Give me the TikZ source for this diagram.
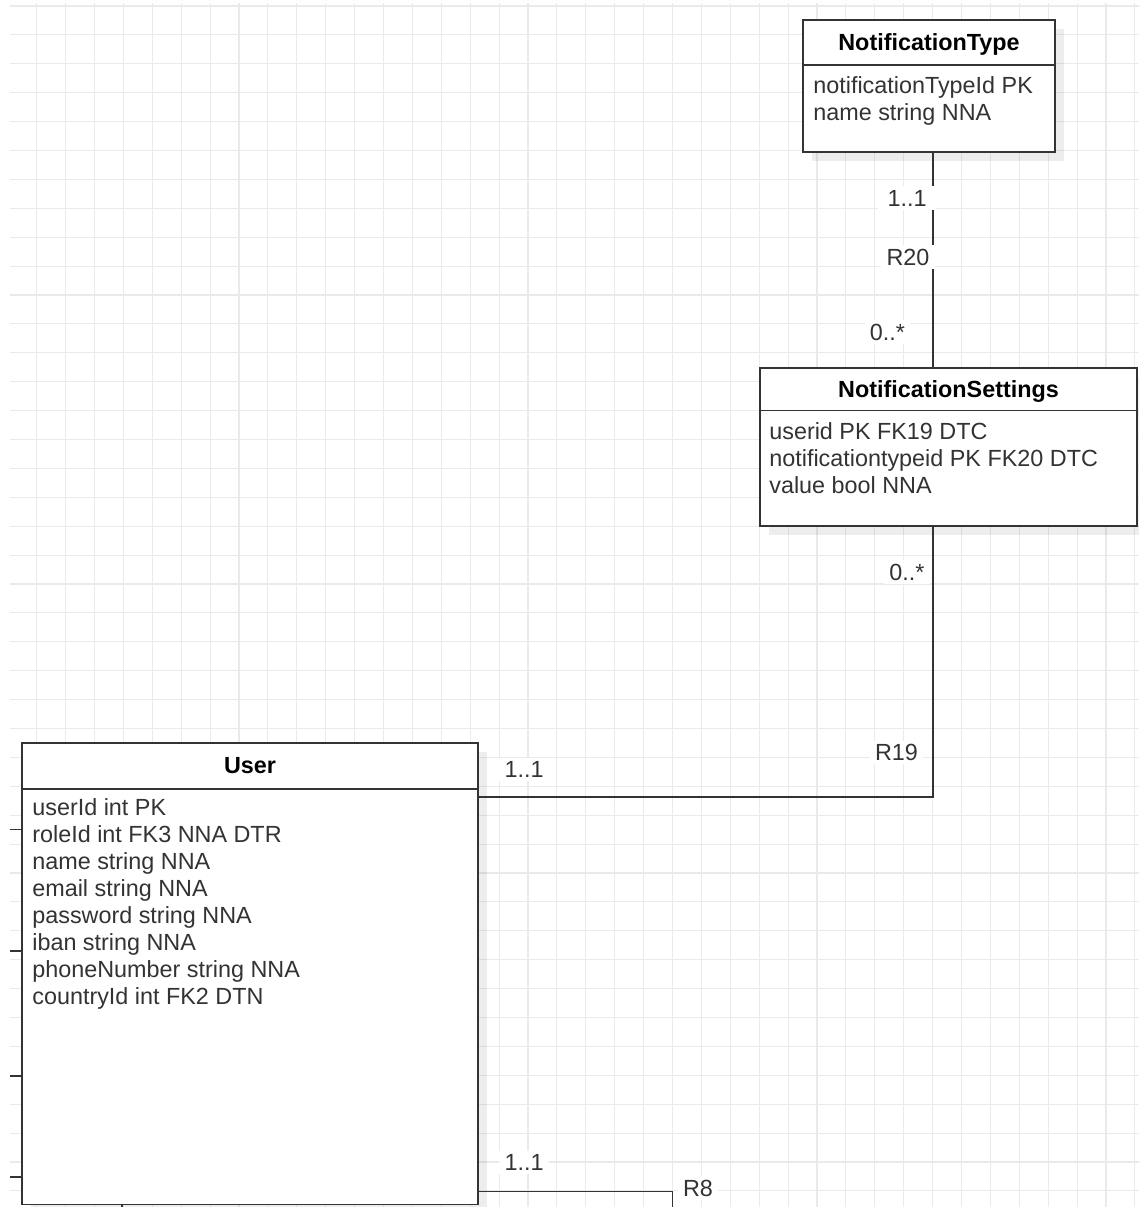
\documentclass[tikz,border=0pt]{standalone}
\usepackage{fontspec}
\setmainfont{Liberation Sans}
\usepackage{xcolor}
\usepackage{tikz}
\usetikzlibrary{fit,shadows}

\definecolor{ink}{HTML}{333333}
\definecolor{gridgray}{HTML}{EAEAEA}

\begin{document}
\begin{tikzpicture}[
  x=0.02cm, y=-0.02cm,
  font=\fontsize{13.3}{15.36}\selectfont,
  gridline/.style={draw=gridgray, line width=0.6pt},
  entity/.style={draw=ink, line width=1pt, fill=white, inner sep=0pt,
    drop shadow={shadow xshift=5pt, shadow yshift=-5pt, fill=black, opacity=0.07}},
  heading/.style={anchor=base, inner sep=0pt, text=black, font=\fontsize{13.3}{15.36}\selectfont\bfseries},
  attrs/.style={anchor=base west, align=left, inner sep=0pt, text=ink},
  mult/.style={anchor=base, fill=white, text=ink, inner xsep=3pt, inner ysep=2pt},
  link/.style={draw=ink, line width=1pt}
]
  \useasboundingbox (0,0) rectangle (1139,1207);

  % grid
  \foreach \gx in {36.7,65.6,...,1139}
    \draw[gridline] (\gx,3) -- (\gx,1207);
  \foreach \gy in {6,34.9,...,1207}
    \draw[gridline] (10,\gy) -- (1139,\gy);

  % entities
  \node[entity, fit={(803,20) (1055,152)}] (nt) {};
  \node[entity, fit={(760,368) (1137,526)}] (ns) {};
  \node[entity, fit={(22,743) (478,1204.5)}] (user) {};

  \draw[link] (nt.west |- 0,65) -- (nt.east |- 0,65);
  \draw[link] (ns.west |- 0,410.5) -- (ns.east |- 0,410.5);
  \draw[link] (user.west |- 0,788.7) -- (user.east |- 0,788.7);

  \node[heading] (ntTitle) at (929,50.5) {NotificationType};
  \node[heading] (nsTitle) at (948.5,397) {NotificationSettings};
  \node[heading] (userTitle) at (250,773) {User};

  % attribute lists, placed by the baseline of their last line
  \node[attrs] (ntAttrs) at (813,120) {notificationTypeId PK\\name string NNA};
  \node[attrs] (nsAttrs) at (769,493) {userid PK FK19 DTC\\notificationtypeid PK FK20 DTC\\value bool NNA};
  \node[attrs] (userAttrs) at (32,1004) {userId int PK\\roleId int FK3 NNA DTR\\name string NNA\\email string NNA\\password string NNA\\iban string NNA\\phoneNumber string NNA\\countryId int FK2 DTN};

  % relations
  \coordinate (r20) at (932.7,0);
  \draw[link] (nt.south -| r20) -- (ns.north -| r20);

  \coordinate (r19) at (932.7,797.3);
  \draw[link] (ns.south -| r19) -- (r19) -- (r19 -| user.east);

  \coordinate (r8) at (672.5,1191.5);
  \coordinate (r8end) at (672.5,1207);
  \draw[link] (user.east |- r8) -- (r8) -- (r8end);

  % stubs of relations off the page
  \foreach \sy [count=\i] in {829.5,950.7,1075.7,1176.7} {
    \coordinate (stub\i) at (10,\sy);
    \draw[link] (stub\i) -- (stub\i -| user.west);
  }
  \coordinate (stub5) at (122,1207);
  \draw[link] (stub5) -- (stub5 |- user.south);

  % multiplicities and names
  \node[mult, inner xsep=5.5pt] (m20a) at (907,206) {1..1};
  \node[mult] (r20lbl) at (908,265) {R20};
  \node[mult] (m20b) at (887.5,340) {0..*};
  \node[mult] (m19a) at (907,580) {0..*};
  \node[mult] (r19lbl) at (896.5,760.7) {R19};
  \node[mult] (m19b) at (524,777.3) {1..1};
  \node[mult] (m8a) at (524,1170.7) {1..1};
  \node[mult] (r8lbl) at (698,1196) {R8};
\end{tikzpicture}
\end{document}
